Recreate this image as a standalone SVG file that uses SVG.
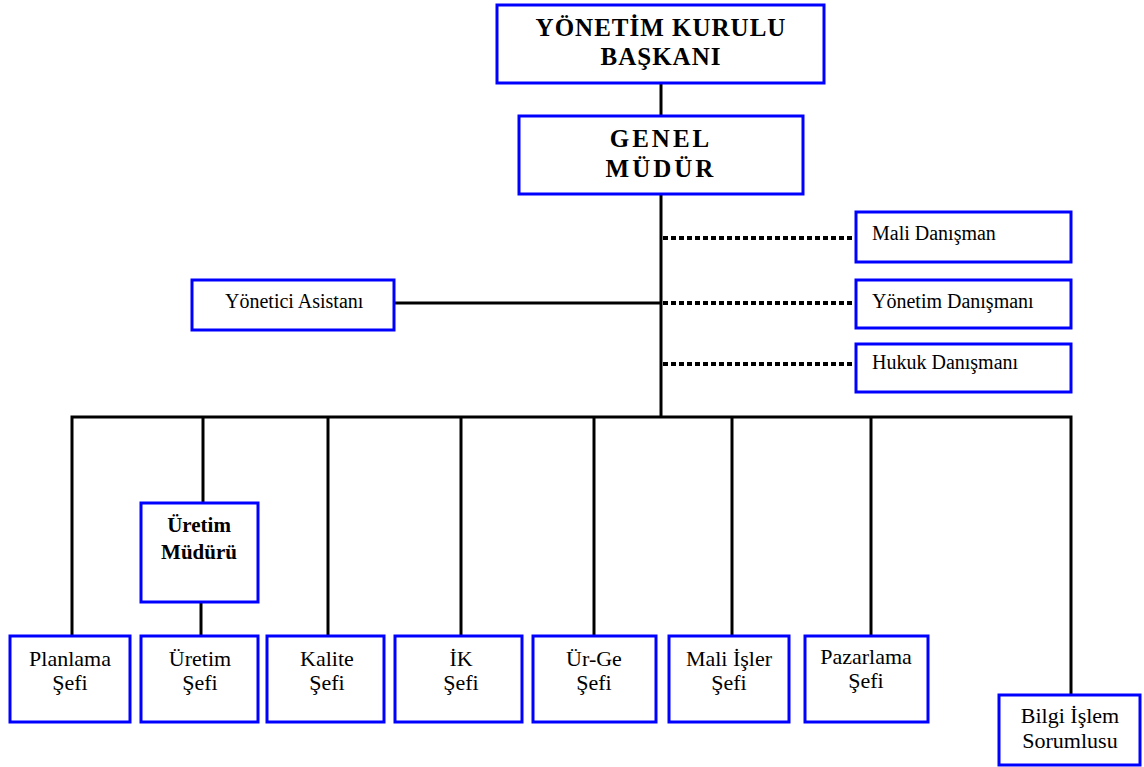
<svg xmlns="http://www.w3.org/2000/svg" width="1144" height="767" viewBox="0 0 1144 767">
<style>
.box{fill:#fff;stroke:#0000ff;stroke-width:3}
.ln{stroke:#000;stroke-width:3;fill:none}
.dash{stroke:#000;stroke-width:4;stroke-dasharray:5 3;fill:none}
text{font-family:"Liberation Serif","Times New Roman",serif;fill:#000;text-anchor:middle}
.t1{font-size:25px;font-weight:bold;letter-spacing:1px}
.t2{font-size:20px;text-anchor:start}
.t3{font-size:22px}
.t3b{font-size:21px;font-weight:bold}
</style>
<rect width="1144" height="767" fill="#fff"/>
<g id="connectors">
<line class="ln" x1="661" y1="83" x2="661" y2="116"/>
<line class="ln" x1="661" y1="194" x2="661" y2="417"/>
<line class="ln" x1="394" y1="303" x2="661" y2="303"/>
<line class="dash" x1="663" y1="238" x2="856" y2="238"/>
<line class="dash" x1="663" y1="303" x2="856" y2="303"/>
<line class="dash" x1="663" y1="364" x2="856" y2="364"/>
<polyline class="ln" points="72,636 72,417 1071,417 1071,695"/>
<line class="ln" x1="203" y1="417" x2="203" y2="503"/>
<line class="ln" x1="201" y1="602" x2="201" y2="636"/>
<line class="ln" x1="328" y1="417" x2="328" y2="636"/>
<line class="ln" x1="461" y1="417" x2="461" y2="636"/>
<line class="ln" x1="594" y1="417" x2="594" y2="636"/>
<line class="ln" x1="732" y1="417" x2="732" y2="636"/>
<line class="ln" x1="871" y1="417" x2="871" y2="636"/>
</g>
<g id="baskan">
<rect class="box" x="497" y="5" width="327" height="78"/>
<text class="t1" x="661" y="36">YÖNETİM KURULU</text>
<text class="t1" x="661" y="65">BAŞKANI</text>
</g>
<g id="genel-mudur">
<rect class="box" x="519" y="116" width="284" height="78"/>
<text class="t1" x="661" y="147" style="letter-spacing:3px">GENEL</text>
<text class="t1" x="661" y="177" style="letter-spacing:3px">MÜDÜR</text>
</g>
<g id="mali-danisman">
<rect class="box" x="856" y="212" width="215" height="50"/>
<text class="t2" x="872" y="240">Mali Danışman</text>
</g>
<g id="yonetim-danismani">
<rect class="box" x="856" y="280" width="215" height="48"/>
<text class="t2" x="872" y="308">Yönetim Danışmanı</text>
</g>
<g id="hukuk-danismani">
<rect class="box" x="856" y="344" width="215" height="48"/>
<text class="t2" x="872" y="369">Hukuk Danışmanı</text>
</g>
<g id="yonetici-asistani">
<rect class="box" x="192" y="280" width="202" height="50"/>
<text class="t2" x="225" y="308">Yönetici Asistanı</text>
</g>
<g id="uretim-muduru">
<rect class="box" x="141" y="503" width="117" height="99"/>
<text class="t3b" x="199" y="532">Üretim</text>
<text class="t3b" x="199" y="559">Müdürü</text>
</g>
<g id="planlama">
<rect class="box" x="10" y="636" width="120" height="86"/>
<text class="t3" x="70" y="666">Planlama</text>
<text class="t3" x="70" y="690">Şefi</text>
</g>
<g id="uretim-sefi">
<rect class="box" x="141" y="636" width="117" height="86"/>
<text class="t3" x="200" y="666">Üretim</text>
<text class="t3" x="200" y="690">Şefi</text>
</g>
<g id="kalite">
<rect class="box" x="267" y="636" width="117" height="86"/>
<text class="t3" x="327" y="666">Kalite</text>
<text class="t3" x="327" y="690">Şefi</text>
</g>
<g id="ik">
<rect class="box" x="395" y="636" width="127" height="86"/>
<text class="t3" x="461" y="666">İK</text>
<text class="t3" x="461" y="690">Şefi</text>
</g>
<g id="urge">
<rect class="box" x="533" y="636" width="123" height="86"/>
<text class="t3" x="594" y="666">Ür-Ge</text>
<text class="t3" x="594" y="690">Şefi</text>
</g>
<g id="mali-isler">
<rect class="box" x="669" y="636" width="120" height="86"/>
<text class="t3" x="729" y="666">Mali İşler</text>
<text class="t3" x="729" y="690">Şefi</text>
</g>
<g id="pazarlama">
<rect class="box" x="805" y="636" width="123" height="86"/>
<text class="t3" x="866" y="664">Pazarlama</text>
<text class="t3" x="866" y="688">Şefi</text>
</g>
<g id="bilgi-islem">
<rect class="box" x="999" y="695" width="141" height="70"/>
<text class="t3" x="1070" y="723">Bilgi İşlem</text>
<text class="t3" x="1070" y="748">Sorumlusu</text>
</g>
</svg>
